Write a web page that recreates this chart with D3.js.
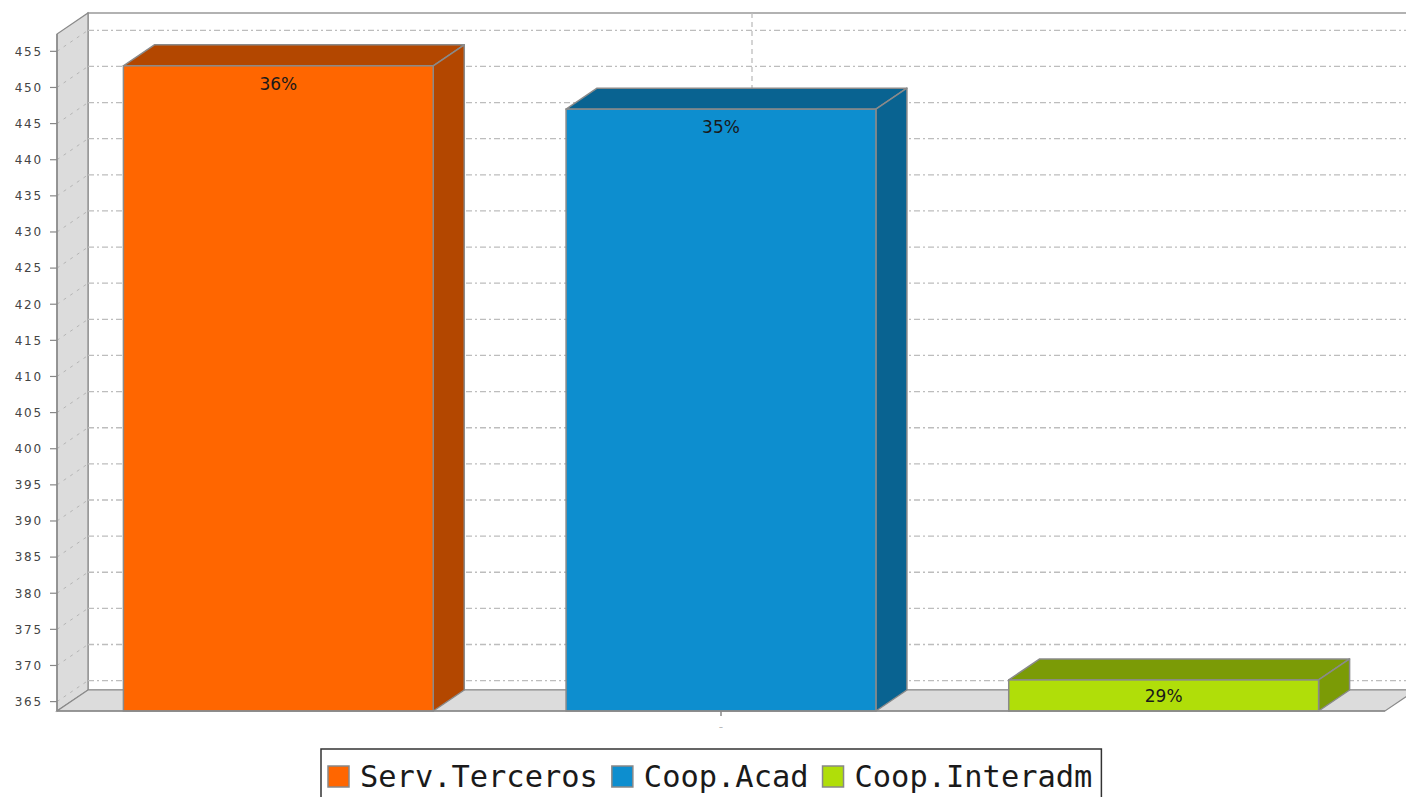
<!DOCTYPE html>
<html>
<head>
<meta charset="utf-8">
<script src="https://cdn.jsdelivr.net/npm/d3@7"></script>
<style>
  html, body { margin: 0; padding: 0; background: #ffffff; }
  svg { display: block; }
</style>
</head>
<body>
<svg id="chart" width="1406" height="797"></svg>
<script>
// ---- data ----
const categories = ["-"];
const seriesNames = ["Serv.Terceros", "Coop.Acad", "Coop.Interadm"];
const seriesValues = [453, 447, 368];
const seriesLabels = ["36%", "35%", "29%"];
const yTickValues = [365, 370, 375, 380, 385, 390, 395, 400, 405, 410, 415, 420, 425, 430, 435, 440, 445, 450, 455];
const yDomain = [363.7, 457.4];
const seriesColors = ["#FF6600", "#0D8ECF", "#B0DE09"];

// ---- layout ----
const W = 1406, H = 797;
const front = { left: 57, right: 1385, top: 34, bottom: 711 };
const DX = 31, DY = -21;

const svg = d3.select("#chart");

const y = d3.scaleLinear().domain(yDomain).range([front.bottom, front.top]);
const xCat = d3.scaleBand().domain(categories)
  .range([front.left, front.right]).paddingOuter(0).paddingInner(0);
const catWidth = xCat.bandwidth();
const xSeries = d3.scaleBand().domain(seriesNames)
  .range([front.left + catWidth * 0.05, front.right - catWidth * 0.05])
  .paddingInner(0.3).paddingOuter(0);

const darker = c => { const k = d3.rgb(c); return d3.rgb(k.r * 0.7, k.g * 0.7, k.b * 0.7).formatHex(); };

const gridColor = "#bdbdbd";
const edgeColor = "#8a8a8a";

// back wall
svg.append("rect")
  .attr("x", front.left + DX).attr("y", front.top + DY)
  .attr("width", front.right - front.left).attr("height", front.bottom - front.top)
  .attr("fill", "#ffffff").attr("stroke", "#999").attr("stroke-width", 1.5);

// left wall
svg.append("path")
  .attr("d", d3.line()([[front.left, front.bottom], [front.left, front.top], [front.left + DX, front.top + DY], [front.left + DX, front.bottom + DY]]) + "Z")
  .attr("fill", "#dcdcdc").attr("stroke", edgeColor).attr("stroke-width", 1.2);

// floor
svg.append("path")
  .attr("d", d3.line()([[front.left, front.bottom], [front.right, front.bottom], [front.right + DX, front.bottom + DY], [front.left + DX, front.bottom + DY]]) + "Z")
  .attr("fill", "#dcdcdc").attr("stroke", edgeColor).attr("stroke-width", 1.2);

// horizontal gridlines on back wall
svg.append("g").selectAll("line").data(yTickValues).join("line")
  .attr("x1", front.left + DX).attr("x2", front.right + DX)
  .attr("y1", d => y(d) + DY).attr("y2", d => y(d) + DY)
  .attr("stroke", gridColor).attr("stroke-width", 1.3).attr("stroke-dasharray", "6,3,2,3");

// diagonal gridlines on left wall
svg.append("g").selectAll("line").data(yTickValues).join("line")
  .attr("x1", front.left).attr("x2", front.left + DX)
  .attr("y1", d => y(d)).attr("y2", d => y(d) + DY)
  .attr("stroke", "#b5b5b5").attr("stroke-width", 1).attr("stroke-dasharray", "3,5");

// category gridline on back wall
svg.append("g").selectAll("line").data(categories).join("line")
  .attr("x1", d => xCat(d) + catWidth / 2 + DX).attr("x2", d => xCat(d) + catWidth / 2 + DX)
  .attr("y1", front.top + DY).attr("y2", front.bottom + DY)
  .attr("stroke", gridColor).attr("stroke-width", 1.3).attr("stroke-dasharray", "5,4");

// bars
const bars = svg.append("g").selectAll("g").data(seriesNames.map((s, i) => ({ s, v: seriesValues[i], c: seriesColors[i], lab: seriesLabels[i] })))
  .join("g");

bars.each(function(d) {
  const g = d3.select(this);
  const x0 = xSeries(d.s), x1 = x0 + xSeries.bandwidth();
  const yt = y(d.v), yb = y(yDomain[0]);
  const dark = darker(d.c);
  g.append("path")
    .attr("d", d3.line()([[x0, yt], [x0 + DX, yt + DY], [x1 + DX, yt + DY], [x1, yt]]) + "Z")
    .attr("fill", dark).attr("stroke", edgeColor).attr("stroke-width", 1.5).attr("stroke-linejoin", "round");
  g.append("path")
    .attr("d", d3.line()([[x1, yt], [x1 + DX, yt + DY], [x1 + DX, yb + DY], [x1, yb]]) + "Z")
    .attr("fill", dark).attr("stroke", edgeColor).attr("stroke-width", 1.5).attr("stroke-linejoin", "round");
  g.append("rect")
    .attr("x", x0).attr("y", yt).attr("width", x1 - x0).attr("height", yb - yt)
    .attr("fill", d.c).attr("stroke", edgeColor).attr("stroke-width", 1.5);
  const cy = Math.min(yt + 18, (yt + yb) / 2);
  g.append("text")
    .attr("x", (x0 + x1) / 2).attr("y", cy).attr("dy", "0.36em")
    .attr("text-anchor", "middle")
    .attr("font-family", "DejaVu Sans, sans-serif").attr("font-size", 17)
    .attr("fill", "#1a1a1a")
    .text(d.lab);
});

// front axis lines
svg.append("line").attr("x1", front.left).attr("x2", front.left)
  .attr("y1", front.top).attr("y2", front.bottom)
  .attr("stroke", edgeColor).attr("stroke-width", 1.5);
svg.append("line").attr("x1", front.left).attr("x2", front.right)
  .attr("y1", front.bottom).attr("y2", front.bottom)
  .attr("stroke", edgeColor).attr("stroke-width", 1.5);

// y axis ticks + labels
const yAxisG = svg.append("g");
yAxisG.selectAll("line").data(yTickValues).join("line")
  .attr("x1", front.left - 7).attr("x2", front.left)
  .attr("y1", d => y(d)).attr("y2", d => y(d))
  .attr("stroke", "#888").attr("stroke-width", 1.2);
yAxisG.selectAll("text").data(yTickValues).join("text")
  .attr("x", front.left - 14).attr("y", d => y(d)).attr("dy", "0.36em")
  .attr("text-anchor", "end")
  .attr("font-family", "DejaVu Sans, sans-serif").attr("font-size", 12)
  .attr("letter-spacing", "1.8px")
  .attr("fill", "#444")
  .text(d => d);

// category axis tick + label
const xAxisG = svg.append("g");
xAxisG.selectAll("line").data(categories).join("line")
  .attr("x1", d => xCat(d) + catWidth / 2).attr("x2", d => xCat(d) + catWidth / 2)
  .attr("y1", front.bottom).attr("y2", front.bottom + 5)
  .attr("stroke", "#888").attr("stroke-width", 1.5);
xAxisG.selectAll("text").data(categories).join("text")
  .attr("x", d => xCat(d) + catWidth / 2).attr("y", front.bottom + 20)
  .attr("text-anchor", "middle")
  .attr("font-family", "DejaVu Sans, sans-serif").attr("font-size", 12)
  .attr("fill", "#bbb")
  .text(d => d);

// legend
const legend = svg.append("g");
const legendFont = { family: "DejaVu Sans Mono, monospace", size: 30.4 };
const items = legend.selectAll("g").data(seriesNames.map((s, i) => ({ s, c: seriesColors[i] }))).join("g");
items.append("text")
  .attr("font-family", legendFont.family).attr("font-size", legendFont.size)
  .attr("fill", "#1a1a1a").text(d => d.s);
let cursor = 328;
const sw = 21;
let lastEnd = cursor;
items.each(function(d) {
  const g = d3.select(this);
  const tw = g.select("text").node().getComputedTextLength();
  g.insert("rect", "text")
    .attr("x", cursor).attr("y", 766).attr("width", sw).attr("height", sw)
    .attr("fill", d.c).attr("stroke", "#888").attr("stroke-width", 1.5);
  g.select("text").attr("x", cursor + sw + 11).attr("y", 787);
  lastEnd = cursor + sw + 11 + tw;
  cursor = lastEnd + 14;
});
legend.insert("rect", "g")
  .attr("x", 321).attr("y", 749).attr("width", lastEnd + 9 - 321).attr("height", 70)
  .attr("fill", "#fff").attr("stroke", "#333").attr("stroke-width", 1.5);
</script>
</body>
</html>
